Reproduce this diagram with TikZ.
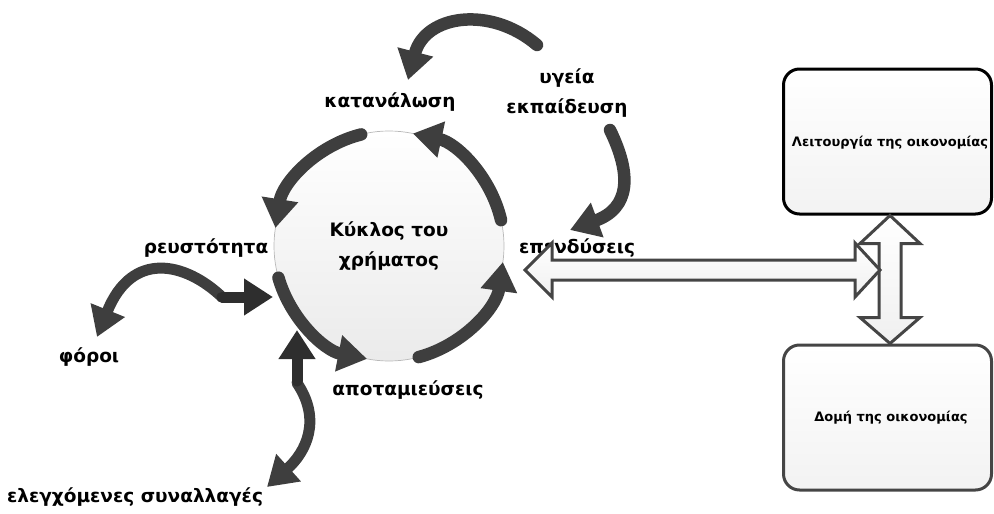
\documentclass[tikz,border=0pt]{standalone}
\usepackage{fontspec}
\setmainfont{DejaVu Sans}[BoldFont={DejaVu Sans Bold}]
\newfontfamily\heavyfont{DejaVu Sans Bold}
\usetikzlibrary{arrows.meta,calc}
\definecolor{ink}{HTML}{3E3E3E}
\definecolor{inkdark}{HTML}{2E2E2E}
\definecolor{rim}{HTML}{454545}
\begin{document}
\begin{tikzpicture}[x=1pt,y=-1pt,
  flow/.style={draw=ink, line width=12.5pt, line cap=round,
    -{Triangle[width=35pt,length=29pt]}},
  lbl/.style={font=\heavyfont\fontsize{18.5}{30}\selectfont, text=black, inner sep=0pt, align=center},
  boxtxt/.style={font=\heavyfont\fontsize{13}{15}\selectfont, text=black, inner sep=0pt},
  panel/.style={rectangle, rounded corners=16pt, line width=3pt, minimum width=208pt,
    minimum height=145pt, top color=white, bottom color=gray!10, inner sep=0pt},
  hollow/.style={draw=rim, line width=3pt, line join=miter, top color=white, bottom color=gray!12}]
\useasboundingbox (0,0) rectangle (994,514);

% money cycle
\node[circle, minimum size=230pt, inner sep=0pt, draw=gray!55, line width=0.7pt,
  top color=white, bottom color=gray!16] (cyc) at (389,246) {};
\node[lbl] (title) at (389,246) {Κύκλος του\\χρήματος};

% arrows running round the cycle
\draw[flow] ([shift={(-13:115)}]cyc.center) arc[start angle=-13, end angle=-78, radius=115];
\draw[flow] ([shift={(-104:115)}]cyc.center) arc[start angle=-104, end angle=-171, radius=115];
\draw[flow] ([shift={(-196:115)}]cyc.center) arc[start angle=-196, end angle=-259, radius=115];
\draw[flow] ([shift={(-285:115)}]cyc.center) arc[start angle=-285, end angle=-352, radius=115];

% labels
\node[lbl] (kat) at (390,102) {κατανάλωση};
\node[lbl] (yg) at (567,93) {υγεία\\εκπαίδευση};
\node[lbl] (rev) at (206,248) {ρευστότητα};
\node[lbl] (for) at (89,357) {φόροι};
\node[lbl] (apo) at (408,390) {αποταμιεύσεις};
\node[lbl] (ele) at (135,497) {ελεγχόμενες συναλλαγές};
\node[lbl] (epe) at (577,248) {επενδύσεις};

% free ends of the outer arrows
\coordinate (kTip) at (408,80);
\coordinate (kTail) at (537,45);
\coordinate (eTail) at (610,130);
\coordinate (eTip) at (570,230);
\coordinate (fTip) at (97,337);
\coordinate (rJoin) at (222,297);
\coordinate (rTip) at (273,297);
\coordinate (sTip) at (297,330);
\coordinate (sJoin) at (297,383);
\coordinate (sEnd) at (267,487);

\draw[flow] (kTail) .. controls (490,5) and (425,15) .. (kTip);
\draw[flow] (eTail) .. controls (632,175) and (630,208) .. (eTip);

\draw[flow, line width=11pt] (rJoin) .. controls (185,262) and (132,250) .. (fTip);
\draw[flow, draw=inkdark, line width=11pt] (rJoin) -- (rTip);

\draw[flow, line width=11pt] (sJoin) .. controls (322,420) and (306,452) .. (sEnd);
\draw[flow, draw=inkdark, line width=11pt] ([yshift=2pt]sJoin) -- (sTip);

% economy boxes
\node[panel, draw=black] (lei) at (887.5,141.5) {};
\node[boxtxt] at (890,143) {Λειτουργία της οικονομίας};
\node[panel, draw=rim] (dom) at (887.5,417.5) {};
\node[boxtxt] at (891,418) {Δομή της οικονομίας};

% vertical two-way arrow between the boxes
\coordinate (vT) at ($(lei.south)+(2.5,0)$);
\coordinate (vB) at ($(dom.north)+(2.5,0)$);
\draw[hollow] (vT) -- ($(vT)+(30,28)$) -- ($(vT)+(11,28)$) -- ($(vB)+(11,-26)$)
  -- ($(vB)+(30,-26)$) -- (vB) -- ($(vB)+(-30,-26)$) -- ($(vB)+(-11,-26)$)
  -- ($(vT)+(-11,28)$) -- ($(vT)+(-30,28)$) -- cycle;

% horizontal two-way arrow from the cycle
\coordinate (hL) at (525,270);
\coordinate (hR) at (880,270);
\draw[hollow] (hL) -- ($(hL)+(27,-27)$) -- ($(hL)+(27,-10)$) -- ($(hR)+(-25,-10)$)
  -- ($(hR)+(-25,-27)$) -- (hR) -- ($(hR)+(-25,27)$) -- ($(hR)+(-25,10)$)
  -- ($(hL)+(27,10)$) -- ($(hL)+(27,27)$) -- cycle;
\end{tikzpicture}
\end{document}
